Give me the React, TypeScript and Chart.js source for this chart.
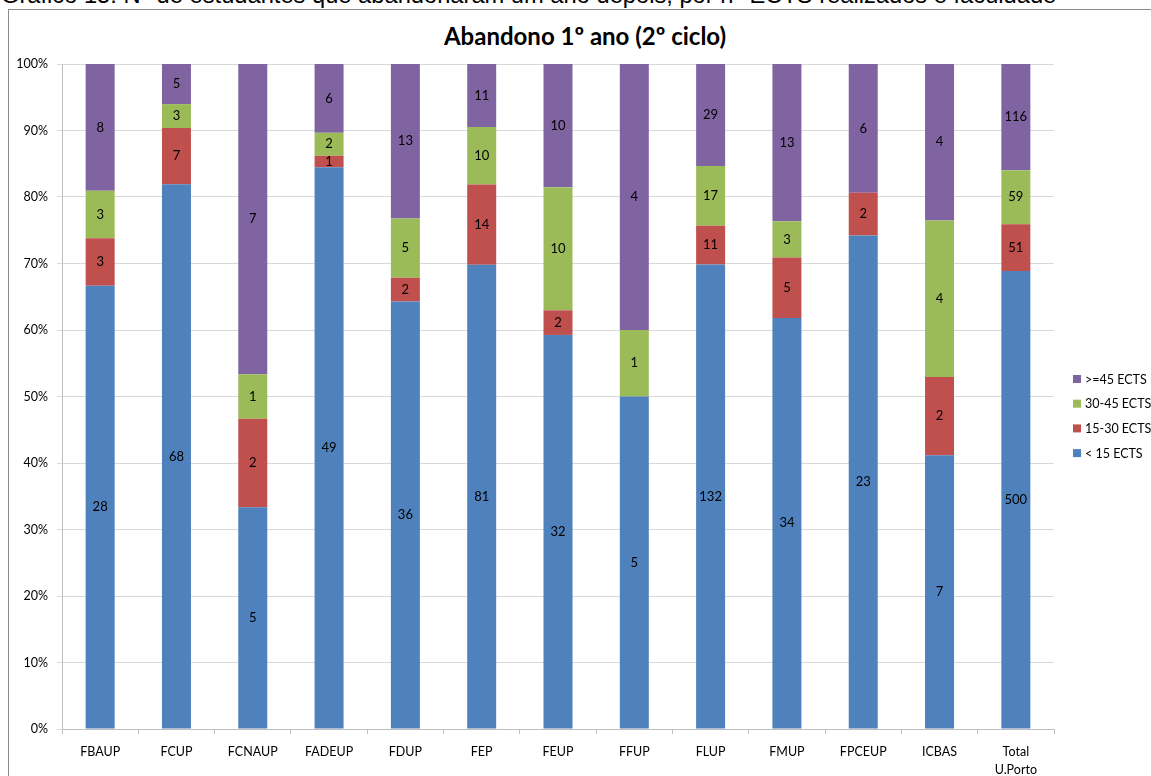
import React, { useEffect, useRef } from "react";
import { Chart, registerables } from "chart.js";

Chart.register(...registerables);

const categories: (string | string[])[] = [
  "FBAUP", "FCUP", "FCNAUP", "FADEUP", "FDUP", "FEP", "FEUP", "FFUP",
  "FLUP", "FMUP", "FPCEUP", "ICBAS", ["Total", "U.Porto"],
];
const seriesNames = ["< 15 ECTS", "15-30 ECTS", "30-45 ECTS", ">=45 ECTS"];
const lt15 = [28, 68, 5, 49, 36, 81, 32, 5, 132, 34, 23, 7, 500];
const ects15to30 = [3, 7, 2, 1, 2, 14, 2, 0, 11, 5, 2, 2, 51];
const ects30to45 = [3, 3, 1, 2, 5, 10, 10, 1, 17, 3, 0, 4, 59];
const ge45 = [8, 5, 7, 6, 13, 11, 10, 4, 29, 13, 6, 4, 116];
const seriesColors = ["#4F81BD", "#C0504D", "#9BBB59", "#8064A2"];
const yTickStep = 10;

const counts = [lt15, ects15to30, ects30to45, ge45];
const totals = categories.map((_, j) => counts.reduce((s, arr) => s + arr[j], 0));
const percents = counts.map((arr) => arr.map((v, j) => (v / totals[j]) * 100));

const FONT = "Lato, 'Open Sans', sans-serif";

const segLabels = {
  id: "segLabels",
  afterDatasetsDraw(chart: any) {
    const ctx = chart.ctx;
    ctx.save();
    ctx.font = `13px ${FONT}`;
    ctx.fillStyle = "#000";
    ctx.textAlign = "center";
    ctx.textBaseline = "middle";
    chart.data.datasets.forEach((ds: any, i: number) => {
      const meta = chart.getDatasetMeta(i);
      meta.data.forEach((el: any, j: number) => {
        const c = counts[i][j];
        if (!c) return;
        const p = el.getProps(["x", "y", "base"], true);
        ctx.fillText(String(c), p.x, (p.y + p.base) / 2);
      });
    });
    ctx.restore();
  },
};

const sideLegend = {
  id: "sideLegend",
  afterDraw(chart: any) {
    const ctx = chart.ctx;
    const area = chart.chartArea;
    ctx.save();
    ctx.font = `12.5px ${FONT}`;
    ctx.textAlign = "left";
    ctx.textBaseline = "middle";
    const x0 = area.right + 19;
    const yStart = 379;
    const gap = 24.7;
    const n = chart.data.datasets.length;
    for (let k = 0; k < n; k++) {
      const i = n - 1 - k;
      const ds = chart.data.datasets[i];
      const y = yStart + k * gap;
      ctx.fillStyle = ds.backgroundColor;
      ctx.fillRect(x0, y - 4, 8, 8);
      ctx.fillStyle = "#000";
      ctx.fillText(ds.label, x0 + 12, y + 0.5);
    }
    ctx.restore();
  },
};

export default function App() {
  const ref = useRef<HTMLCanvasElement | null>(null);

  useEffect(() => {
    if (!ref.current) return;
    const chart = new Chart(ref.current, {
      type: "bar",
      data: {
        labels: categories as any,
        datasets: percents.map((data, i) => ({
          label: seriesNames[i],
          data,
          backgroundColor: seriesColors[i],
          borderWidth: 0,
          barPercentage: 0.38,
          categoryPercentage: 1,
        })),
      },
      options: {
        animation: false,
        responsive: false,
        devicePixelRatio: 1,
        layout: { padding: { left: 0, top: 64, right: 97, bottom: 0 } },
        plugins: {
          legend: { display: false },
          title: { display: false },
          tooltip: { enabled: false },
        },
        scales: {
          x: {
            stacked: true,
            grid: {
              display: true,
              drawOnChartArea: false,
              drawTicks: true,
              tickLength: 5,
              color: "#BFBFBF",
              offset: true,
            },
            border: { color: "#BFBFBF" },
            ticks: {
              color: "#000",
              font: { family: FONT, size: 12.5, lineHeight: 1.45 },
              padding: 9,
              maxRotation: 0,
              autoSkip: false,
            },
            afterFit: (s: any) => {
              s.height = 47;
            },
          },
          y: {
            stacked: true,
            min: 0,
            max: 100,
            ticks: {
              stepSize: yTickStep,
              color: "#000",
              font: { family: FONT, size: 12.5 },
              padding: 9,
              callback: (v: any) => `${v}%`,
            },
            grid: { color: "#D9D9D9", tickLength: 5, drawTicks: true },
            border: { color: "#BFBFBF" },
            afterFit: (s: any) => {
              s.width = 62;
            },
          },
        },
      },
      plugins: [segLabels, sideLegend],
    });
    return () => chart.destroy();
  }, []);

  return (
    <div
      style={{
        position: "fixed",
        left: 0,
        top: 0,
        width: 1151,
        height: 776,
        overflow: "hidden",
        background: "#fff",
      }}
    >
      <div
        style={{
          position: "absolute",
          left: 1,
          top: -18,
          whiteSpace: "nowrap",
          fontFamily: "'Liberation Sans', Arial, sans-serif",
          fontSize: 23.7,
          color: "#000",
        }}
      >
        Gráfico 15: N° de estudantes que abandonaram um ano depois, por n° ECTS realizados e faculdade
      </div>
      <div
        style={{
          position: "absolute",
          left: 8,
          top: 9,
          width: 1200,
          height: 820,
          border: "1px solid #8A8A8A",
          boxSizing: "border-box",
        }}
      />
      <div
        style={{
          position: "absolute",
          left: 585,
          top: 24,
          transform: "translateX(-50%)",
          whiteSpace: "nowrap",
          fontFamily: FONT,
          fontWeight: 700,
          fontSize: 24,
          lineHeight: 1,
          color: "#000",
        }}
      >
        Abandono 1º ano (2º ciclo)
      </div>
      <canvas
        ref={ref}
        width={1151}
        height={776}
        style={{ position: "absolute", left: 0, top: 0, width: 1151, height: 776 }}
      />
    </div>
  );
}
